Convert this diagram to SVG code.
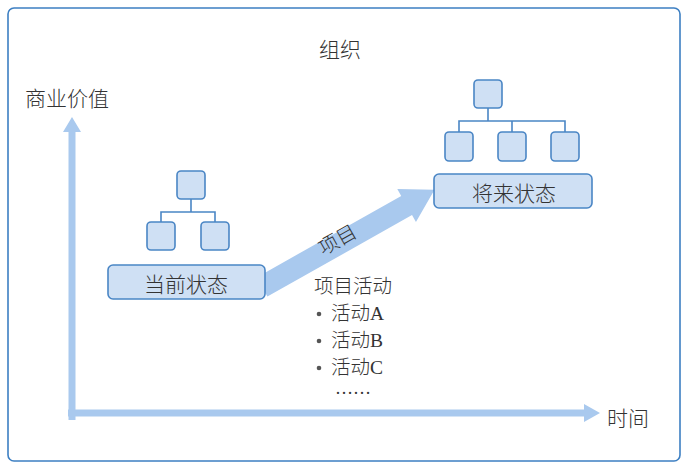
<svg xmlns="http://www.w3.org/2000/svg" width="691" height="469" viewBox="0 0 691 469">
<style>
text{font-family:"Liberation Serif","Noto Sans CJK SC",serif;fill:#333;}
.cjk{font-family:"Noto Sans CJK SC",sans-serif;font-weight:300;}
.lat{font-family:"Liberation Serif",serif;font-weight:400;}
.box{fill:#cfe0f4;stroke:#4a86c5;stroke-width:1.6;}
.line{stroke:#4a86c5;stroke-width:1.6;fill:none;}
.arr{fill:#a9c9ee;}
</style>
<rect x="0" y="0" width="691" height="469" fill="#fff"/>
<rect x="8" y="8" width="672" height="453" rx="6" fill="none" stroke="#3d7fc2" stroke-width="1.6"/>
<text class="cjk" x="340" y="57" font-size="21" text-anchor="middle">组织</text>
<text class="cjk" x="67" y="106" font-size="21" text-anchor="middle">商业价值</text>
<text class="cjk" x="628" y="426" font-size="21" text-anchor="middle">时间</text>
<g id="connectors">
<path class="arr" d="M68.5 420 L68.5 132 L63 132 L72 117 L81 132 L75.5 132 L75.5 420 Z"/>
<path class="arr" d="M68 409.5 L584 409.5 L584 404 L600 413 L584 422 L584 416.5 L68 416.5 Z"/>
<g transform="translate(262 287) rotate(-29.4)">
<path class="arr" d="M0 -11 L166 -11 L166 -19 L198 0 L166 19 L166 11 L0 11 Z"/>
<text class="cjk" x="89" y="3" font-size="20" text-anchor="middle">项目</text>
</g>
<path class="line" d="M191 199 V212 M161 222 V212 H215 V222"/>
<path class="line" d="M488 108 V121 M459 132 V121 H565 V132 M512 121 V132"/>
</g>
<g id="current">
<rect class="box" x="177" y="171" width="28" height="28" rx="4"/>
<rect class="box" x="147" y="222" width="28" height="28" rx="4"/>
<rect class="box" x="201" y="222" width="28" height="28" rx="4"/>
<rect class="box" x="108" y="265" width="157" height="34" rx="5"/>
<text class="cjk" x="186" y="292" font-size="21" text-anchor="middle">当前状态</text>
</g>
<g id="future">
<rect class="box" x="474" y="80" width="28" height="28" rx="4"/>
<rect class="box" x="445" y="132" width="28" height="29" rx="4"/>
<rect class="box" x="498" y="132" width="28" height="29" rx="4"/>
<rect class="box" x="551" y="132" width="28" height="29" rx="4"/>
<rect class="box" x="434" y="174" width="158" height="34" rx="5"/>
<text class="cjk" x="514" y="201" font-size="21" text-anchor="middle">将来状态</text>
</g>
<g id="activities">
<text class="cjk" x="353" y="293" font-size="19.5" text-anchor="middle">项目活动</text>
<circle cx="319" cy="314" r="2.3" fill="#555"/>
<text class="cjk" x="331" y="320" font-size="19.5">活动<tspan class="lat">A</tspan></text>
<circle cx="319" cy="341" r="2.3" fill="#555"/>
<text class="cjk" x="331" y="347" font-size="19.5">活动<tspan class="lat">B</tspan></text>
<circle cx="319" cy="368" r="2.3" fill="#555"/>
<text class="cjk" x="331" y="374" font-size="19.5">活动<tspan class="lat">C</tspan></text>
<text x="353" y="394" font-size="18" text-anchor="middle">……</text>
</g>
</svg>
